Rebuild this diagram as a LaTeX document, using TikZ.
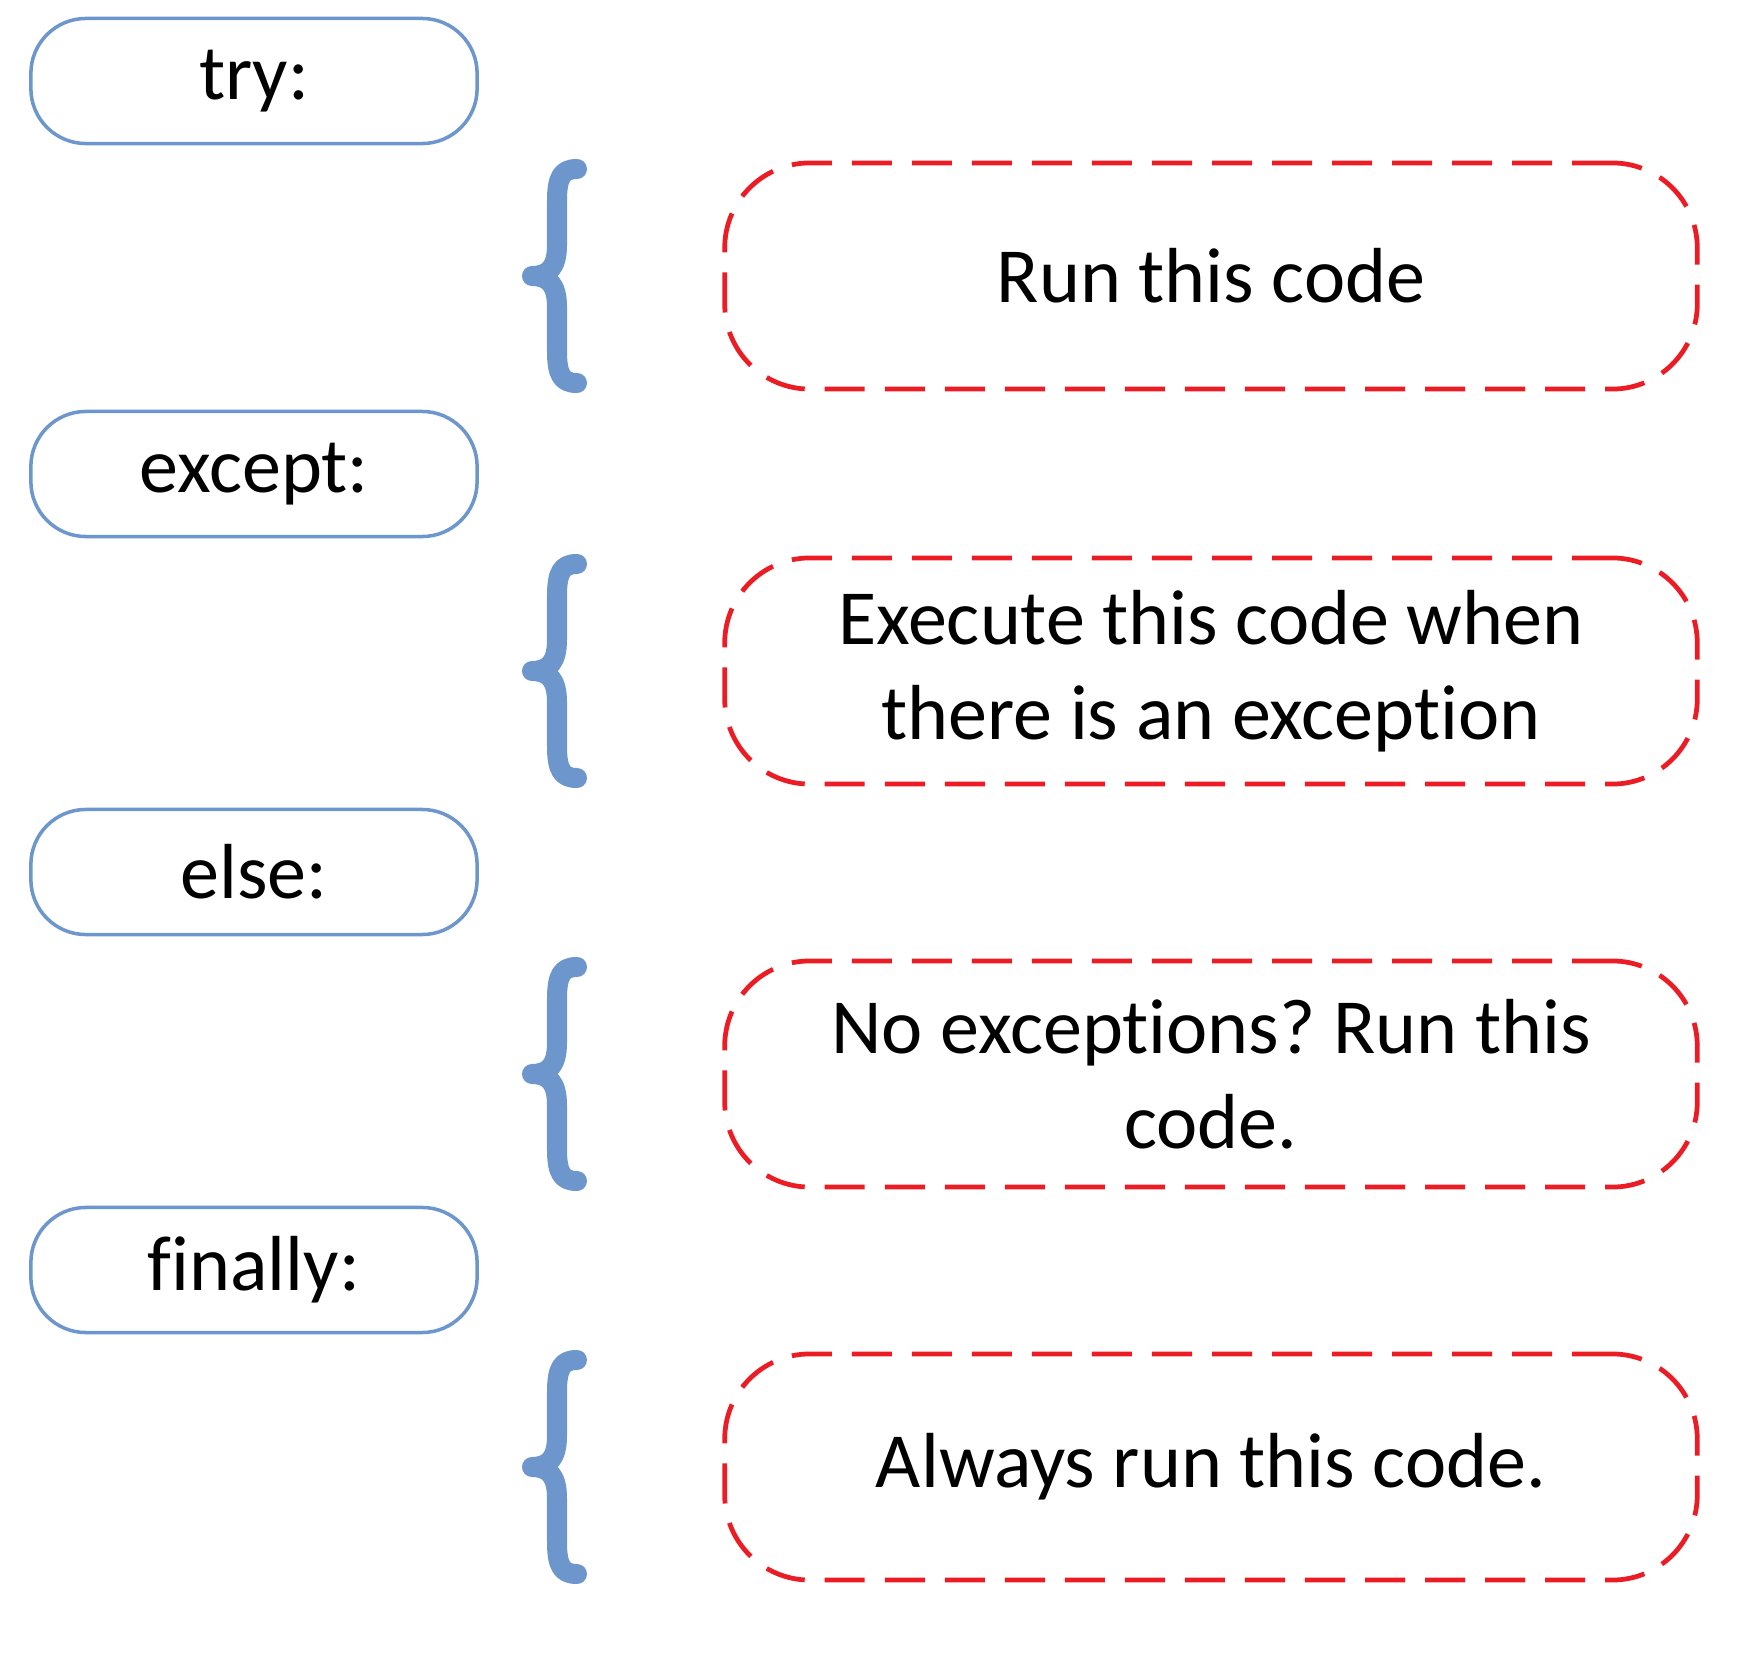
\documentclass[tikz,border=0pt]{standalone}
\usepackage{fontspec}
\setmainfont{Carlito}[RawFeature={-liga;-clig;-dlig;-calt}]
\usepackage{xcolor}
\usetikzlibrary{positioning}
\definecolor{keyblue}{RGB}{108,150,204}
\definecolor{dashred}{RGB}{236,28,36}
\frenchspacing

\begin{document}
\begin{tikzpicture}[x=0.01cm, y=-0.01cm,
  keyword/.style={draw=keyblue, line width=1pt, rounded corners=0.55cm,
    minimum width=4.46cm, minimum height=1.25cm, inner sep=0pt,
    font=\fontsize{22.2}{27}\selectfont},
  codebox/.style={draw=dashred, line width=1.35pt, dash pattern=on 0.4cm off 0.2cm,
    rounded corners=0.85cm, minimum width=9.72cm, minimum height=2.26cm,
    align=center, font=\fontsize{22.2}{27}\selectfont},
  curly/.style={draw=keyblue, line width=0.2cm, line cap=round, line join=round}]
\useasboundingbox (0,0) rectangle (1750,1660);
% keywords
\node[keyword] (try) at (254,81) {try:};
\node[keyword] (except) at (254,474) {except:};
\node[keyword] (else) at (254,872) {else:};
\node[keyword] (finally) at (254,1270) {finally:};
% code blocks
\node[codebox] (runcode) at (1211,276) {Run this code};
\node[codebox] (exccode) at (1211,671) {Execute this code when\\there is an exception};
\node[codebox] (elsecode) at (1211,1074) {No exceptions? Run this\\code.};
\node[codebox] (fincode) at (1211,1467) {Always run this code.};
% braces
\foreach \t in {163,558,961,1354}{
\draw[curly] (577,\t+6) .. controls (562,\t+6) and (557,\t+14) .. (557,\t+38)
  -- (557,\t+82) .. controls (557,\t+104) and (549,\t+113) .. (532,\t+113)
  .. controls (549,\t+113) and (557,\t+122) .. (557,\t+144)
  -- (557,\t+188) .. controls (557,\t+212) and (562,\t+220) .. (577,\t+220);
};
\end{tikzpicture}
\end{document}
